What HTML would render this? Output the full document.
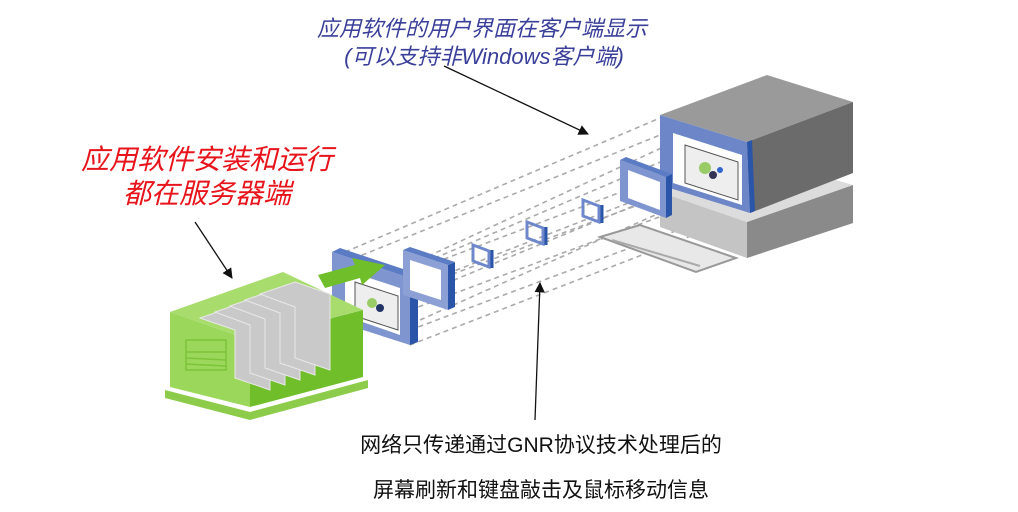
<!DOCTYPE html>
<html><head><meta charset="utf-8"><style>
html,body{margin:0;padding:0;background:#fff}
svg{display:block}
.t{font-family:"Liberation Sans","Noto Sans CJK SC",sans-serif}
</style></head><body>
<svg width="1018" height="512" viewBox="0 0 1018 512" xmlns="http://www.w3.org/2000/svg">
<defs>
<marker id="ah" viewBox="0 0 10 10" refX="9" refY="5" markerWidth="8" markerHeight="8" orient="auto"><path d="M0,0 L10,5 L0,10 z" fill="#111"/></marker>
</defs>
<rect width="1018" height="512" fill="#fff"/>
<!-- dashed projection lines -->
<g stroke="#aaa" stroke-width="1.6" stroke-dasharray="5,4" fill="none">
<line x1="345" y1="252" x2="660" y2="118"/>
<line x1="345" y1="262" x2="660" y2="135"/>
<line x1="410" y1="272" x2="745" y2="145"/>
<line x1="410" y1="290" x2="745" y2="165"/>
<line x1="410" y1="310" x2="745" y2="185"/>
<line x1="410" y1="330" x2="745" y2="205"/>
<line x1="410" y1="345" x2="745" y2="215"/>
<line x1="345" y1="325" x2="660" y2="195"/>
<line x1="360" y1="290" x2="665" y2="160"/>
<line x1="380" y1="300" x2="700" y2="175"/>
<line x1="420" y1="260" x2="700" y2="130"/>
<line x1="420" y1="320" x2="700" y2="195"/>
</g>
<!-- main frame near server -->
<polygon points="332,252 410,278 410,345 332,320" fill="#7f95cf"/>
<polygon points="410,278 418,274 418,342 410,345" fill="#2a55a8"/>
<polygon points="332,252 340,248 418,274 410,278" fill="#5b7cc4"/>
<polygon points="345,270 400,288 400,335 345,316" fill="#fff"/>
<polygon points="355,282 398,296 398,330 355,316" fill="#eee" stroke="#555" stroke-width="1"/>
<circle cx="372" cy="303" r="5" fill="#9c6"/><circle cx="380" cy="308" r="4" fill="#236"/>
<!-- medium frame -->
<polygon points="403,250 448,265 448,310 403,295" fill="#8ca0d6"/>
<polygon points="410,260 441,270 441,300 410,290" fill="#fff"/>
<polygon points="448,265 455,262 455,307 448,310" fill="#2a55a8"/>
<polygon points="403,250 410,247 455,262 448,265" fill="#5b7cc4"/>
<!-- small frames -->
<g fill="none" stroke="#6f88cc" stroke-width="3">
<polygon points="473,245 489,251 489,267 473,261"/>
<polygon points="527,222 543,228 543,244 527,238"/>
<polygon points="583,200 599,206 599,222 583,216"/>
</g>
<g stroke="#2a55a8" stroke-width="3">
<line x1="492" y1="250" x2="492" y2="268"/><line x1="546" y1="227" x2="546" y2="245"/><line x1="602" y1="205" x2="602" y2="223"/>
</g>
<!-- computer -->
<polygon points="660,192 747,222 853,185 853,223 747,258 660,227" fill="#c4c4c4"/>
<polygon points="747,222 853,185 853,223 747,258" fill="#8a8a8a"/>
<polygon points="660,192 768,160 853,185 747,222" fill="#dcdcdc"/>
<polygon points="660,115 767,75 853,102 747,142" fill="#9a9a9a"/>
<polygon points="747,142 853,102 853,173 750,213" fill="#6b6b6b"/>
<polygon points="660,115 747,142 750,213 660,185" fill="#6d86c8"/>
<polygon points="747,142 752,140 755,211 750,213" fill="#2a55a8"/>
<polygon points="673,133 742,155 742,205 673,183" fill="#fff"/>
<polygon points="685,145 738,162 738,200 685,183" fill="#eee" stroke="#555"/>
<circle cx="705" cy="168" r="6" fill="#9c6"/><circle cx="713" cy="175" r="4" fill="#335"/><circle cx="720" cy="170" r="3" fill="#36c"/>
<!-- medium frame near computer -->
<polygon points="620,160 666,177 666,218 620,201" fill="#7f95cf"/>
<polygon points="628,170 660,182 660,210 628,198" fill="#fff"/>
<polygon points="666,177 672,174 672,215 666,218" fill="#2a55a8"/>
<polygon points="620,160 626,157 672,174 666,177" fill="#5b7cc4"/>
<!-- keyboard -->
<polygon points="600,237 640,225 736,258 696,272" fill="#e8e8e8" stroke="#999" stroke-width="2"/>
<line x1="612" y1="240" x2="700" y2="266" stroke="#aaa" stroke-width="2"/>
<!-- green server -->
<polygon points="170,312 250,340 250,407 170,387" fill="#9bd75a"/>
<polygon points="250,340 363,310 363,377 250,407" fill="#6fbe2a"/>
<polygon points="170,312 283,272 363,310 250,340" fill="#a8dc6c"/>
<polygon points="165,390 250,412 368,380 368,388 250,420 165,398" fill="#8ccc4a"/>
<g fill="#c9c9c9" stroke="#e8e8e8" stroke-width="1">
<polygon points="200,318 235,306 270,318 270,390 235,378 235,330"/>
<polygon points="215,312 250,300 285,312 285,385 250,373 250,325"/>
<polygon points="230,306 265,294 300,306 300,380 265,368 265,319"/>
<polygon points="245,300 280,288 315,300 315,375 280,363 280,313"/>
<polygon points="260,294 295,282 330,294 330,370 295,358 295,307"/>
</g>
<g stroke="#7cc43a" stroke-width="1.5">
<rect x="186" y="340" width="40" height="30" fill="none"/>
<line x1="186" y1="352" x2="226" y2="352"/><line x1="186" y1="358" x2="226" y2="360"/><line x1="186" y1="364" x2="226" y2="366"/>
</g>
<!-- green arrow -->
<polygon points="318,275 355,265 352,258 385,265 362,285 360,278 325,288" fill="#6fbe2a"/>
<!-- arrows -->
<line x1="444" y1="66" x2="588" y2="134" stroke="#111" stroke-width="1.3" marker-end="url(#ah)"/>
<line x1="195" y1="222" x2="232" y2="278" stroke="#111" stroke-width="1.3" marker-end="url(#ah)"/>
<line x1="535" y1="420" x2="540" y2="283" stroke="#111" stroke-width="1.3" marker-end="url(#ah)"/>
<!-- text -->
<g class="t" font-style="italic" fill="#3a3f9a" font-size="22" text-anchor="middle">
<text x="482" y="36">应用软件的用户界面在客户端显示</text>
<text x="484" y="64">(可以支持非Windows客户端)</text>
</g>
<g class="t" font-style="italic" fill="#e8141c" font-size="28" text-anchor="middle">
<text x="207" y="169">应用软件安装和运行</text>
<text x="207" y="203">都在服务器端</text>
</g>
<g class="t" fill="#111" font-size="21" text-anchor="middle">
<text x="541" y="452">网络只传递通过GNR协议技术处理后的</text>
<text x="541" y="497">屏幕刷新和键盘敲击及鼠标移动信息</text>
</g>
</svg>
</body></html>
